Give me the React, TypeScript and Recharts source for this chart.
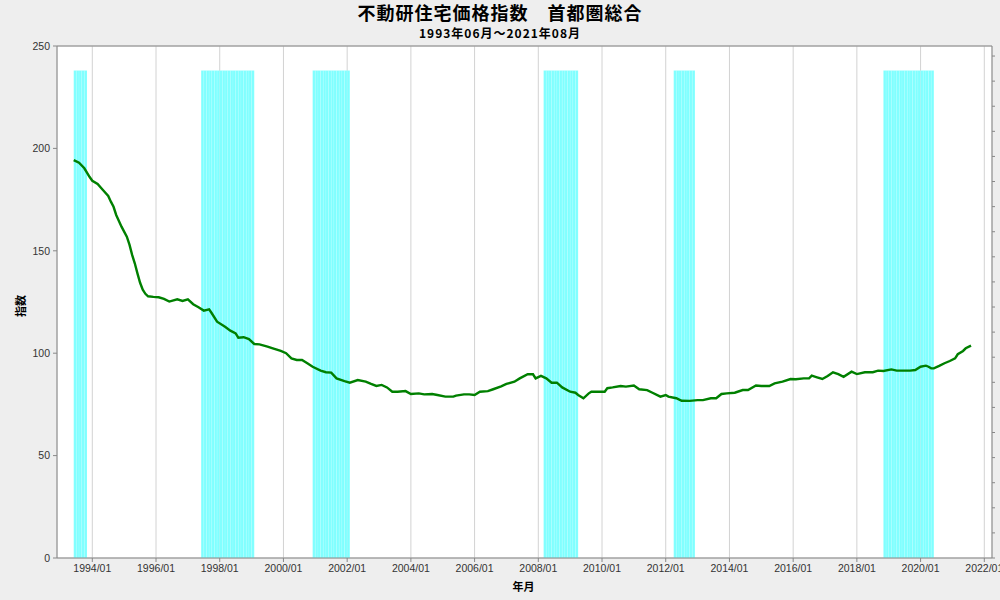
import React from "react";
import {
  ComposedChart,
  Line,
  XAxis,
  YAxis,
  CartesianGrid,
  ReferenceArea,
  ReferenceLine,
} from "recharts";

// ---- data ----
const dates: string[] = [
  "1993/06","1993/08","1993/10","1993/12","1994/01","1994/03","1994/05","1994/07","1994/08","1994/09",
  "1994/10","1994/12","1995/02","1995/03","1995/04","1995/05","1995/06","1995/07","1995/08","1995/09",
  "1995/10","1995/12","1996/02","1996/04","1996/06","1996/09","1996/11","1997/01","1997/03","1997/05",
  "1997/07","1997/09","1997/10","1997/12","1998/03","1998/05","1998/07","1998/08","1998/10","1998/12",
  "1999/02","1999/04","1999/07","1999/09","1999/12","2000/02","2000/04","2000/06","2000/08","2000/10",
  "2000/12","2001/03","2001/05","2001/07","2001/09","2001/12","2002/02","2002/05","2002/08","2002/10",
  "2002/12","2003/02","2003/04","2003/06","2003/08","2003/11","2004/01","2004/04","2004/06","2004/09",
  "2004/11","2005/02","2005/05","2005/06","2005/09","2005/11","2006/01","2006/03","2006/06","2006/08",
  "2006/11","2007/01","2007/04","2007/06","2007/09","2007/11","2007/12","2008/02","2008/04","2008/06",
  "2008/08","2008/10","2009/01","2009/03","2009/04","2009/06","2009/08","2009/09","2009/12","2010/02",
  "2010/03","2010/05","2010/08","2010/10","2011/01","2011/03","2011/06","2011/08","2011/11","2012/01",
  "2012/02","2012/05","2012/07","2012/10","2013/01","2013/03","2013/06","2013/08","2013/10","2013/12",
  "2014/03","2014/06","2014/08","2014/11","2015/01","2015/04","2015/06","2015/09","2015/12","2016/02",
  "2016/05","2016/07","2016/08","2016/10","2016/12","2017/02","2017/04","2017/06","2017/08","2017/11",
  "2018/01","2018/04","2018/07","2018/09","2018/11","2019/02","2019/04","2019/07","2019/09","2019/11",
  "2020/01","2020/03","2020/04","2020/05","2020/06","2020/08","2020/10","2020/12","2021/02","2021/03",
  "2021/05","2021/06","2021/08",
];

const indexValues: number[] = [
  194.3,193.0,190.3,186.0,184.2,182.6,179.7,176.8,174.0,171.5,
  167.5,161.8,156.9,153.0,148.0,143.9,139.0,134.4,131.0,129.0,
  127.8,127.5,127.3,126.5,125.2,126.3,125.5,126.3,123.9,122.4,
  120.8,121.4,119.5,115.4,112.9,111.0,109.7,107.6,107.8,106.9,
  104.5,104.3,103.2,102.4,101.1,100.0,97.5,96.7,96.7,95.1,
  93.4,91.5,90.7,90.5,87.7,86.4,85.6,86.9,86.1,85.0,
  84.0,84.5,83.3,81.2,81.2,81.5,80.1,80.4,79.9,80.1,
  79.6,78.8,78.8,79.3,79.9,79.9,79.6,81.2,81.5,82.4,
  83.8,85.0,86.1,87.7,89.7,89.7,87.7,88.9,87.7,85.6,
  85.6,83.3,81.2,80.7,79.6,78.0,80.4,81.2,81.2,81.2,
  82.9,83.3,84.0,83.7,84.2,82.4,82.0,80.7,78.8,79.6,
  78.8,78.0,76.8,76.7,77.1,77.1,78.0,78.0,80.1,80.4,
  80.7,82.0,82.0,84.2,84.0,84.0,85.3,86.1,87.4,87.3,
  87.7,87.7,89.0,88.2,87.4,88.9,90.7,89.8,88.5,91.0,
  89.8,90.7,90.7,91.5,91.3,92.1,91.5,91.5,91.5,91.8,
  93.4,93.9,93.4,92.6,92.6,93.8,95.1,96.2,97.5,99.5,
  101.1,102.4,103.7,
];

// shaded periods: first and last month of each
const shadeStarts: string[] = ["1993/06", "1997/06", "2000/12", "2008/03", "2012/04", "2018/11"];
const shadeEnds: string[] = ["1993/10", "1999/01", "2002/01", "2009/03", "2012/11", "2020/05"];
const shadeValue = 238;

const xTickLabels: string[] = [
  "1994/01","1996/01","1998/01","2000/01","2002/01","2004/01","2006/01","2008/01",
  "2010/01","2012/01","2014/01","2016/01","2018/01","2020/01","2022/01",
];
const yTicks: number[] = [0, 50, 100, 150, 200, 250];
const rightTicks: number[] = [0,1,2,3,4,5,6,7,8,9,10,11,12,13,14,15,16,17,18,19,20];

// months since 1994/01
const toT = (s: string) => {
  const [y, m] = s.split("/").map(Number);
  return (y - 1994) * 12 + (m - 1);
};
const fromT = (t: number) => {
  const y = 1994 + Math.floor(t / 12);
  const m = (t % 12) + 1;
  return `${y}/${m < 10 ? "0" + m : m}`;
};

const lineData = dates.map((d, i) => ({ t: toT(d), v: indexValues[i] }));
const xTicks = xTickLabels.map(toT);

const shadeMonths: number[] = [];
shadeStarts.forEach((s, i) => {
  for (let t = toT(s); t <= toT(shadeEnds[i]); t++) shadeMonths.push(t);
});

const FONT = "'Liberation Sans', Arial, sans-serif";
const CJK = "'Noto Sans CJK JP', sans-serif";

export default function App() {
  return (
    <div
      style={{
        position: "absolute",
        left: 0,
        top: 0,
        width: 1000,
        height: 600,
        background: "#eeeeee",
        overflow: "hidden",
      }}
    >
      <div
        style={{
          position: "absolute",
          left: 0,
          width: 1000,
          top: 0,
          textAlign: "center",
          fontFamily: CJK,
          fontWeight: 700,
          fontSize: 18,
          lineHeight: "24px",
          color: "#000",
          letterSpacing: 1,
        }}
      >
        不動研住宅価格指数　首都圏総合
      </div>
      <div
        style={{
          position: "absolute",
          left: 0,
          width: 1000,
          top: 25,
          textAlign: "center",
          fontFamily: CJK,
          fontWeight: 700,
          fontSize: 12,
          lineHeight: "16px",
          color: "#000",
          letterSpacing: 1,
        }}
      >
        1993年06月～2021年08月
      </div>
      <div
        style={{
          position: "absolute",
          left: 0,
          width: 1047,
          top: 578,
          textAlign: "center",
          fontFamily: CJK,
          fontWeight: 700,
          fontSize: 11,
          lineHeight: "16px",
          color: "#000",
        }}
      >
        年月
      </div>
      <div
        style={{
          position: "absolute",
          left: 12,
          top: 306,
          transform: "translate(-50%, -50%) rotate(-90deg)",
          transformOrigin: "center",
          marginLeft: 8,
          fontFamily: CJK,
          fontWeight: 700,
          fontSize: 11,
          lineHeight: "16px",
          color: "#000",
          whiteSpace: "nowrap",
        }}
      >
        指数
      </div>
      <div style={{ position: "absolute", left: 0, top: 0 }}>
        <ComposedChart
          width={1000}
          height={600}
          data={lineData}
          margin={{ top: 46, right: 0, bottom: 0, left: 0 }}
        >
          <CartesianGrid stroke="#d2d2d2" strokeWidth={1} fill="#ffffff" />
          {shadeMonths.map((t) => (
            <ReferenceArea
              key={t}
              x1={t}
              x2={t + 1}
              y1={0}
              y2={shadeValue}
              yAxisId="left"
              fill="#80ffff"
              fillOpacity={1}
              stroke="#ffffff"
              strokeOpacity={0.2}
              strokeWidth={0.5}
              ifOverflow="visible"
            />
          ))}
          <XAxis
            dataKey="t"
            type="number"
            domain={[-13.3, 338.9]}
            ticks={xTicks}
            tickFormatter={(t: number) => fromT(t)}
            allowDataOverflow
            height={42}
            stroke="#888888"
            tickSize={4}
            tickMargin={3}
            tick={{ fill: "#333333", fontSize: 10.5, fontFamily: FONT }}
            interval={0}
          />
          <YAxis
            yAxisId="left"
            orientation="left"
            domain={[0, 250]}
            ticks={yTicks}
            width={57}
            stroke="#888888"
            tickSize={4}
            tickMargin={3}
            tick={{ fill: "#333333", fontSize: 10.5, fontFamily: FONT }}
            allowDataOverflow
          />
          <YAxis
            yAxisId="right"
            orientation="right"
            domain={[0, 20.4]}
            ticks={rightTicks}
            width={8}
            stroke="#888888"
            tickSize={3}
            tickFormatter={() => ""}
            allowDataOverflow
          />
          <ReferenceLine yAxisId="left" y={250} stroke="#888888" strokeWidth={1} />
          <Line
            yAxisId="left"
            type="linear"
            dataKey="v"
            stroke="#008000"
            strokeWidth={2.4}
            dot={false}
            isAnimationActive={false}
          />
        </ComposedChart>
      </div>
    </div>
  );
}
